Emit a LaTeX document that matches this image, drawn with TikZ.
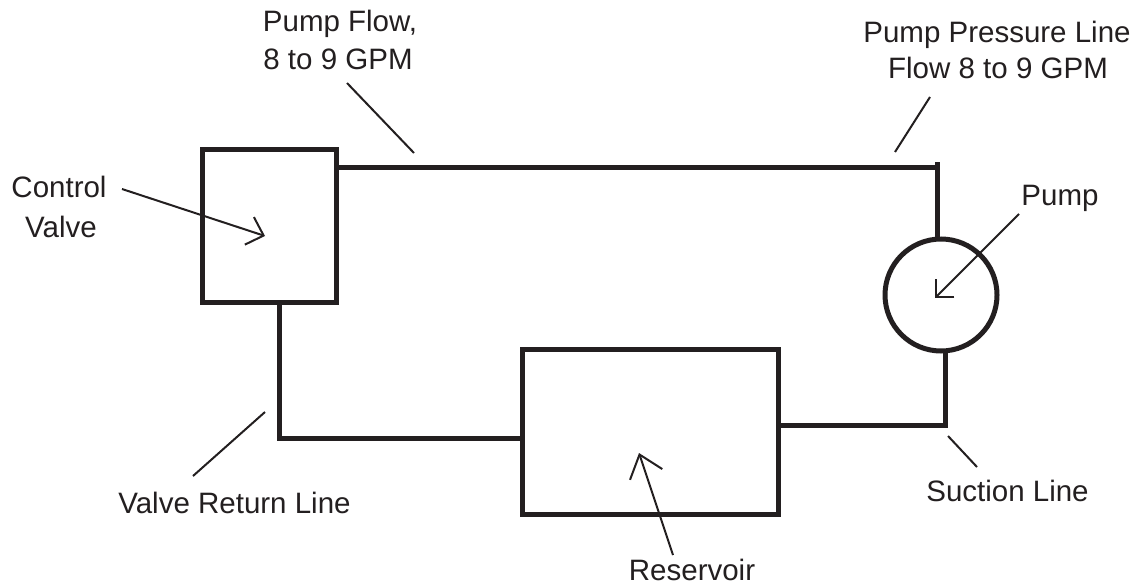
\documentclass[tikz,border=0pt]{standalone}
\usepackage{fontspec}
\setmainfont{Liberation Sans}
\usetikzlibrary{arrows.meta}
\definecolor{ink}{HTML}{231F20}
\newcommand\lblfont{\fontsize{29.5}{36}\selectfont}
\begin{document}
\begin{tikzpicture}[x=1pt,y=-1pt,
  thickline/.style={line width=5pt, draw=ink},
  leader/.style={line width=2pt, draw=ink},
  compbox/.style={draw=ink, line width=5pt, rectangle, inner sep=0pt, outer sep=0pt},
  pumpshape/.style={draw=ink, line width=5pt, circle, inner sep=0pt, outer sep=0pt, minimum size=112pt},
  lbl/.style={font=\lblfont, text=ink, inner sep=0pt, anchor=base}]
\useasboundingbox[fill=white] (0,0) rectangle (1147,586);

% components
\node[compbox, minimum width=134.5pt, minimum height=153pt] (cv) at (269.25,226) {};
\node[compbox, minimum width=256pt, minimum height=165pt] (res) at (650.5,432) {};
\node[pumpshape] (pump) at (941,295) {};

% pipes
\coordinate (tr) at (937.5,167);
\coordinate (trtop) at (937.5,162);
\draw[thickline] (cv.east |- tr) -- (tr);
\draw[thickline] (trtop) -- (trtop |- pump.north);
\coordinate (br) at (945.5,425.5);
\draw[thickline] (br |- pump.south) -- (br) -- (res.east |- br);
\coordinate (bl) at (279,438.5);
\draw[thickline] (bl |- cv.south) -- (bl) -- (res.west |- bl);

% labels
\node[lbl] (pf1) at (340,32) {Pump Flow,};
\node[lbl] (pf2) at (338,69) {8 to 9 GPM};
\node[lbl] (pp1) at (997,43) {Pump Pressure Line};
\node[lbl] (pp2) at (998,78) {Flow 8 to 9 GPM};
\node[lbl] (cv1) at (59,197) {Control};
\node[lbl] (cv2) at (61,237) {Valve};
\node[lbl] (pl) at (1060,205) {Pump};
\node[lbl] (vr) at (234.5,513) {Valve Return Line};
\node[lbl] (sl) at (1007.5,501) {Suction Line};
\node[lbl] (rl) at (692,580) {Reservoir};

% leaders
\coordinate (pfA) at (347,83);  \coordinate (pfB) at (414,153);
\coordinate (ppA) at (930,97);  \coordinate (ppB) at (895,152);
\coordinate (vrA) at (193,476); \coordinate (vrB) at (265,412);
\coordinate (slA) at (948,436); \coordinate (slB) at (977,467);
\draw[leader] (pfA) -- (pfB);
\draw[leader] (ppA) -- (ppB);
\draw[leader] (vrA) -- (vrB);
\draw[leader] (slA) -- (slB);

% arrows
\coordinate (cvA) at (122,189); \coordinate (cvT) at (265,236);
\coordinate (pA) at (1019,214); \coordinate (pT) at (935,298);
\coordinate (rA) at (673,555);  \coordinate (rT) at (639,453);
\draw[leader, -{Straight Barb[length=15pt,width=29pt]}] (cvA) -- (cvT);
\draw[leader, -{Straight Barb[length=13pt,width=26pt]}] (pA) -- (pT);
\draw[leader, -{Straight Barb[length=21pt,width=34pt]}] (rA) -- (rT);
\end{tikzpicture}
\end{document}
